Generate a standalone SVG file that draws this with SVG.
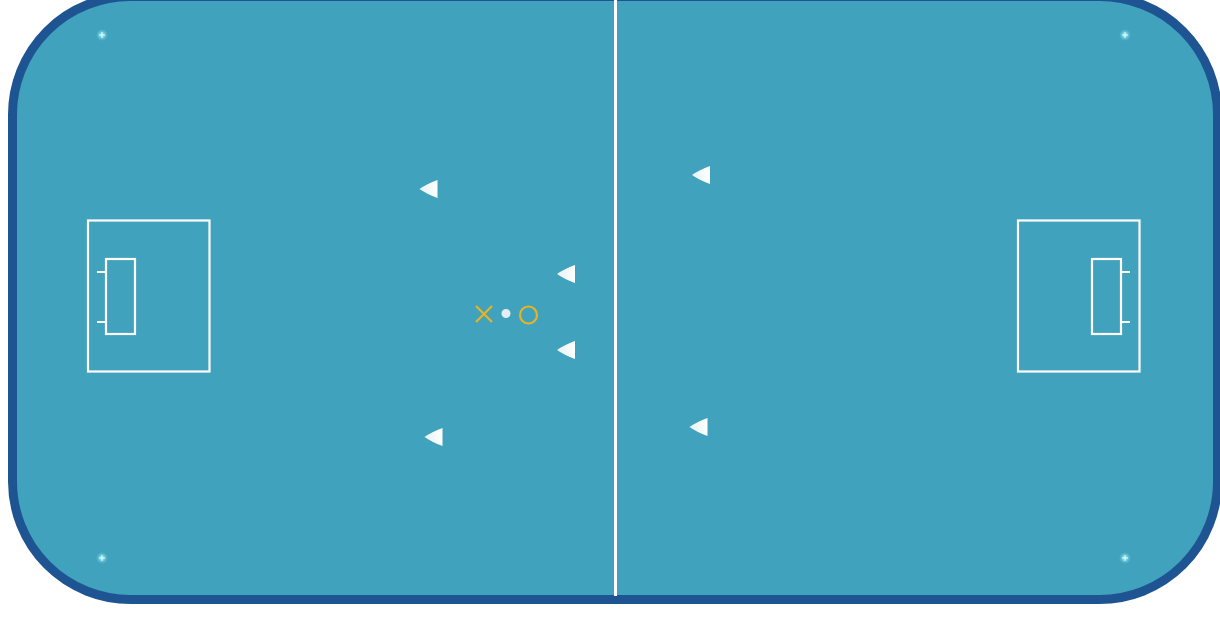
<svg xmlns="http://www.w3.org/2000/svg" width="1220" height="622" viewBox="0 0 1220 622">
<defs>
<radialGradient id="glow"><stop offset="0" stop-color="#c8ffff" stop-opacity="0.9"/><stop offset="1" stop-color="#7fe0f0" stop-opacity="0"/></radialGradient>
<linearGradient id="pl" x1="0" y1="0" x2="1" y2="0"><stop offset="0" stop-color="#e6f2f4"/><stop offset="1" stop-color="#ffffff"/></linearGradient>
<g id="star"><circle r="6" fill="url(#glow)"/><path d="M-3 0H3M0 -3V3" stroke="#d8ffff" stroke-width="1"/></g>
<path id="player" d="M-9 0 Q-2 -5 9 -9 V9 Q-2 5 -9 0Z"/>
</defs>
<style>
.line{fill:none;stroke:#ffffff;stroke-width:2.2}
.pl{fill:url(#pl)}
.mark{fill:none;stroke:#e8b323;stroke-width:2.2}
</style>
<rect id="field" x="12.5" y="-3.5" width="1205" height="603" rx="118" ry="118" fill="#40a2bd" stroke="#1f5493" stroke-width="9"/>
<rect id="centerline" x="614" y="0" width="3" height="596" fill="#ffffff"/>
<g id="corners">
<use href="#star" x="102" y="35"/>
<use href="#star" x="1125" y="35"/>
<use href="#star" x="102" y="558"/>
<use href="#star" x="1125" y="558"/>
</g>
<g id="goal-left">
<rect class="line" x="88" y="220.5" width="121.5" height="151"/>
<rect class="line" x="106" y="259" width="29" height="75"/>
<path class="line" d="M97 272H106M97 322H106"/>
</g>
<g id="goal-right">
<rect class="line" x="1018" y="220.5" width="121.5" height="151"/>
<rect class="line" x="1092" y="259" width="29" height="75"/>
<path class="line" d="M1121 272H1130M1121 322H1130"/>
</g>
<g id="players">
<use class="pl" href="#player" x="428.5" y="189"/>
<use class="pl" href="#player" x="566" y="274"/>
<use class="pl" href="#player" x="566" y="350"/>
<use class="pl" href="#player" x="433.5" y="437"/>
<use class="pl" href="#player" x="701" y="175"/>
<use class="pl" href="#player" x="698.5" y="427"/>
</g>
<g id="kickoff">
<path class="mark" d="M476 306L492 322M492 306L476 322"/>
<circle cx="506" cy="313.5" r="4.5" fill="#e4eef2"/>
<circle class="mark" cx="528.5" cy="315" r="8.5"/>
</g>
</svg>
